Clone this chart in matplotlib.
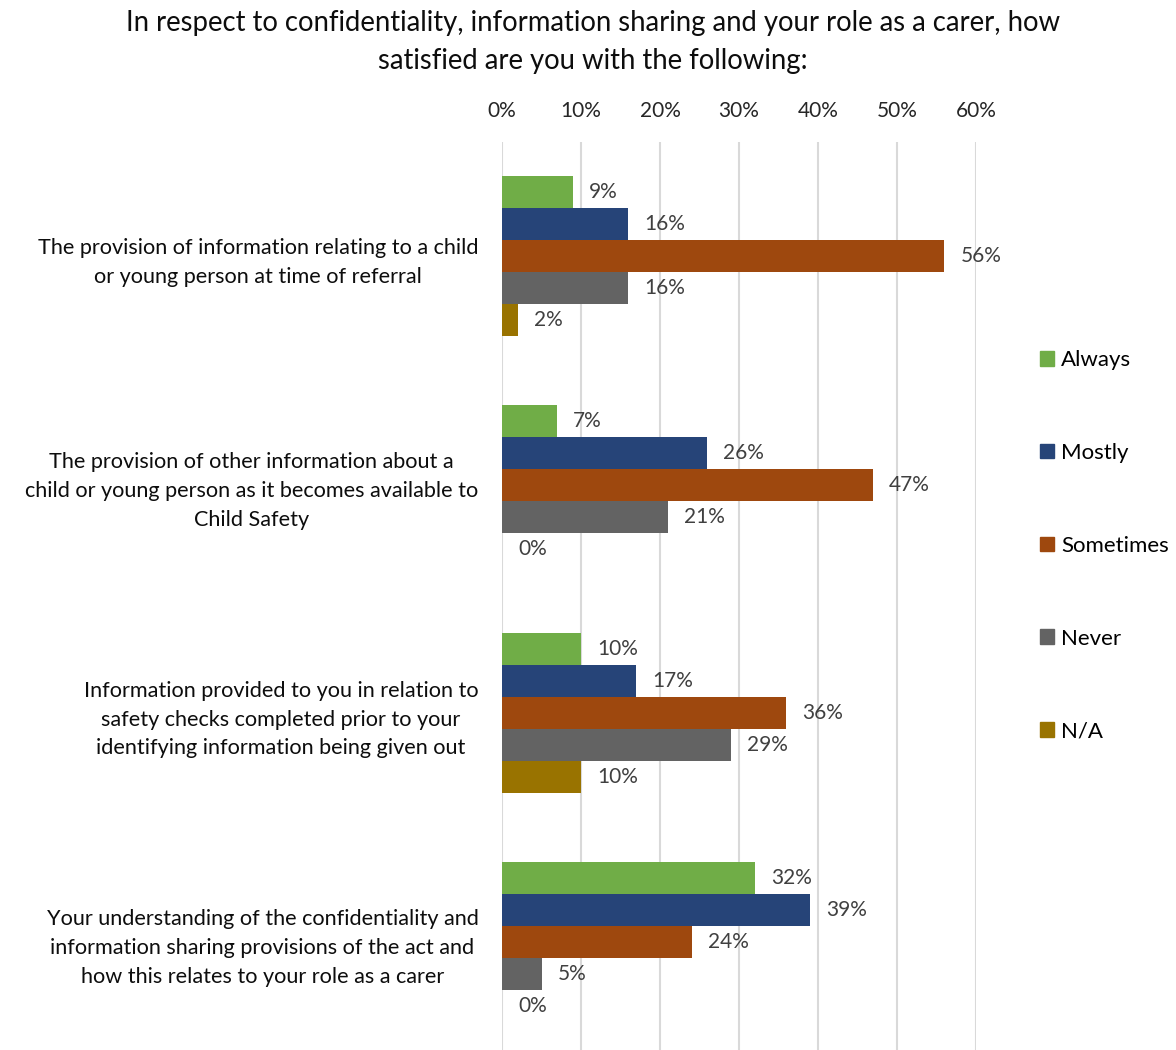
import numpy as np
import matplotlib
matplotlib.use('Agg')
import matplotlib.pyplot as plt
from matplotlib.patches import Patch

plt.rcParams['font.family'] = ['Lato', 'DejaVu Sans']

# Data
questions = [
    'The provision of information relating to a child\nor young person at time of referral',
    'The provision of other information about a\nchild or young person as it becomes available to\nChild Safety',
    'Information provided to you in relation to\nsafety checks completed prior to your\nidentifying information being given out',
    'Your understanding of the confidentiality and\ninformation sharing provisions of the act and\nhow this relates to your role as a carer',
]
answers = ['Always', 'Mostly', 'Sometimes', 'Never', 'N/A']
always = [9, 7, 10, 32]
mostly = [16, 26, 17, 39]
sometimes = [56, 47, 36, 24]
never = [16, 21, 29, 5]
na = [2, 0, 10, 0]
colors = ['#70AD47', '#264478', '#9E480E', '#636363', '#997300']
xticks = [0, 10, 20, 30, 40, 50, 60]

series = [always, mostly, sometimes, never, na]

fig = plt.figure(figsize=(11.76, 10.5), dpi=100)
ax = fig.add_axes([502/1176, 1 - 1056/1050, 474/1176, 914/1050])

y = np.arange(len(questions))
bh = 0.14
for j, (vals, col) in enumerate(zip(series, colors)):
    pos = y - 0.35 + bh * (j + 0.5)
    bars = ax.barh(pos, vals, height=bh, color=col, linewidth=0, zorder=3)
    for b, v in zip(bars, vals):
        ax.annotate(f'{v}%', (v, b.get_y() + bh / 2), xytext=(11.5, 0),
                    textcoords='offset points', va='center', ha='left',
                    fontsize=15, color='#404040')

ax.set_xlim(0, 60)
ax.set_ylim(3.5, -0.5)
ax.set_xticks(xticks)
ax.set_xticklabels([f'{t}%' for t in xticks])
ax.xaxis.tick_top()
ax.tick_params(axis='x', length=0, pad=15, labelsize=15, labelcolor='#262626')
ax.set_yticks(y)
ax.set_yticklabels(questions, multialignment='center', linespacing=1.55)
ax.tick_params(axis='y', length=0, pad=17, labelsize=15.6, labelcolor='#0d0d0d')
ax.grid(axis='x', color='#d9d9d9', linewidth=1.5, zorder=0)
for s in ax.spines.values():
    s.set_visible(False)

fig.text(0.504, 1 - 10/1050,
         'In respect to confidentiality, information sharing and your role as a carer, how\nsatisfied are you with the following:',
         ha='center', va='top', fontsize=19.8, color='#0d0d0d', linespacing=1.55)

handles = [Patch(color=c) for c in colors]
fig.legend(handles, answers, loc='upper left', bbox_to_anchor=(1040/1176, 1 - 350/1050),
           frameon=False, fontsize=16, labelspacing=3.28, handlelength=0.65,
           handleheight=0.65, handletextpad=0.3, borderaxespad=0, borderpad=0)

fig.savefig('out.png', dpi=100)
